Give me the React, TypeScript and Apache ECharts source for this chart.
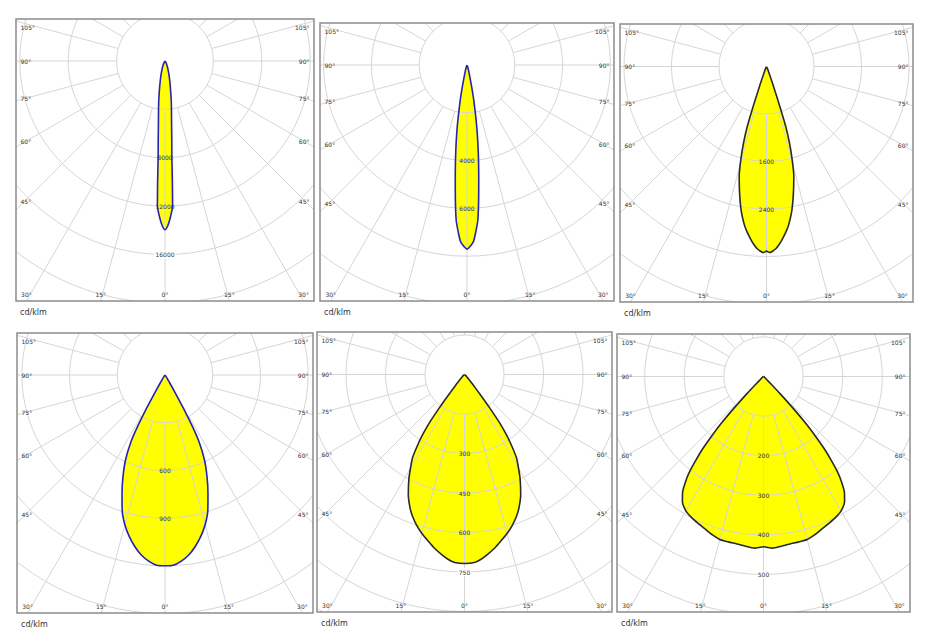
import React, { useEffect, useRef } from "react";
import * as echarts from "echarts";

// ---------- data ----------
const sideAngleLabels = [105, 90, 75, 60, 45];
const bottomAngleLabels = [30, 15, 0];
const unitLabel = "cd/klm";

// Panel 1
const p1Step = 4000;
const p1RingLabels = [8000, 12000, 16000];
const p1Angles = [0, 1, 2, 3, 3.5, 4, 5, 6, 7.5, 9, 11, 13, 16, 20, 25, 30, 40, 50, 90];
const p1Values = [13950, 13600, 12900, 12000, 10000, 8200, 6400, 5200, 4100, 3300, 2400, 1800, 1200, 700, 350, 180, 60, 20, 0];

// Panel 2
const p2Step = 2000;
const p2RingLabels = [4000, 6000];
const p2Angles = [0, 2, 3, 4, 5, 6, 7, 8, 9, 10, 11, 12, 13, 15, 20, 30, 90];
const p2Values = [7700, 7420, 7000, 6500, 5600, 4700, 3950, 3250, 2600, 1950, 1450, 950, 600, 300, 80, 20, 0];

// Panel 3
const p3Step = 800;
const p3RingLabels = [1600, 2400];
const p3Angles = [0, 1, 2, 3, 4, 5, 6, 7, 8, 10, 12, 14, 15.4, 16.7, 17.8, 18.5, 19, 20, 22, 25, 30, 90];
const p3Values = [3110, 3135, 3110, 3070, 3010, 2940, 2860, 2780, 2690, 2460, 2180, 1900, 1630, 1350, 1060, 700, 450, 250, 90, 30, 10, 0];

// Panel 4
const p4Step = 300;
const p4RingLabels = [600, 900];
const p4Angles = [0, 2.5, 5, 7.5, 10, 12.5, 15, 17.5, 20, 22.5, 25, 27, 28, 29, 30, 31, 33, 40, 90];
const p4Values = [1200, 1198, 1175, 1142, 1095, 1040, 975, 895, 790, 690, 585, 470, 370, 240, 120, 55, 20, 5, 0];

// Panel 5
const p5Step = 150;
const p5RingLabels = [300, 450, 600, 750];
const p5Angles = [0, 3, 5, 7, 10, 12, 15, 17.5, 20, 22, 25, 28, 30, 32, 34, 35, 36, 37, 38, 40, 45, 50, 90];
const p5Values = [718, 715, 705, 691, 668, 650, 625, 602, 575, 550, 505, 450, 410, 372, 308, 270, 225, 160, 100, 45, 12, 4, 0];

// Panel 6
const p6Step = 100;
const p6RingLabels = [200, 300, 400, 500];
const p6Angles = [0, 3, 6, 9, 12, 15, 18, 21, 24, 27, 30, 33, 35, 37, 38, 39, 40, 41, 42, 43, 44, 45, 47, 50, 60, 90];
const p6Values = [430, 434, 431, 428, 427, 426, 420, 412, 406, 400, 392, 376, 356, 322, 300, 270, 240, 200, 160, 110, 60, 25, 10, 4, 2, 0];

// ---------- layout / style ----------
const BLUE = "#2424b0";
const DARK = "#2a2a2a";
const GRID = "#d6d6d6";
const TEXT = "#333333";
const FONT = "DejaVu Sans";

type Panel = {
  angles: number[];
  values: number[];
  rings: number[];
  step: number;
  stroke: string;
  box: [number, number, number, number];
  center: [number, number];
  px: number;
};

const panels: Panel[] = [
  { angles: p1Angles, values: p1Values, rings: p1RingLabels, step: p1Step, stroke: BLUE, box: [16, 19, 314, 301], center: [165, 61], px: 48.4 },
  { angles: p2Angles, values: p2Values, rings: p2RingLabels, step: p2Step, stroke: BLUE, box: [320, 23, 614, 301], center: [467, 65], px: 47.8 },
  { angles: p3Angles, values: p3Values, rings: p3RingLabels, step: p3Step, stroke: DARK, box: [620, 24, 913, 302], center: [766.5, 66.5], px: 47.5 },
  { angles: p4Angles, values: p4Values, rings: p4RingLabels, step: p4Step, stroke: BLUE, box: [17, 333, 313, 613], center: [165, 375], px: 47.7 },
  { angles: p5Angles, values: p5Values, rings: p5RingLabels, step: p5Step, stroke: DARK, box: [317, 332, 612, 612], center: [464.5, 374.5], px: 39.5 },
  { angles: p6Angles, values: p6Values, rings: p6RingLabels, step: p6Step, stroke: DARK, box: [617, 334, 910, 612], center: [763.5, 376.5], px: 39.6 },
];

const M = 3;
const FOOT = 22;

function geom(p: Panel) {
  const [l, t, r, b] = p.box;
  const ox = l - M;
  const oy = t - M;
  const W = r - l + 2 * M;
  const H = b - t + M + FOOT;
  return { ox, oy, W, H, bl: M, bt: M, br: M + (r - l), bb: M + (b - t), cx: p.center[0] - ox, cy: p.center[1] - oy };
}

const hidden = { axisLine: { show: false }, axisTick: { show: false }, axisLabel: { show: false }, splitLine: { show: false } };

function buildOption(p: Panel) {
  const g = geom(p);
  const { W, H, bl, bt, br, bb, cx, cy } = g;
  const corners = [[bl, bt], [br, bt], [bl, bb], [br, bb]];
  const far = Math.max(...corners.map(([x, y]) => Math.hypot(x - cx, y - cy)));
  const N = Math.ceil(far / p.px) + 1;

  const n = p.angles.length;
  const data: number[][] = [];
  for (let i = n - 1; i >= 0; i--) data.push([p.values[i], p.angles[i]]);
  for (let i = 1; i < n; i++) data.push([p.values[i], 360 - p.angles[i]]);
  const peak = Math.max(...p.values);

  const txt = (text: string, x: number, y: number, align: string, size = 6) => ({
    type: "text",
    x,
    y,
    z: 70,
    silent: true,
    style: { text, fontSize: size, fontFamily: FONT, fill: TEXT, align, verticalAlign: "middle" },
  });

  const graphics: any[] = [
    { type: "rect", z: 50, silent: true, shape: { x: 0, y: 0, width: W, height: M }, style: { fill: "#fff" } },
    { type: "rect", z: 50, silent: true, shape: { x: 0, y: 0, width: M, height: H }, style: { fill: "#fff" } },
    { type: "rect", z: 50, silent: true, shape: { x: W - M, y: 0, width: M, height: H }, style: { fill: "#fff" } },
    { type: "rect", z: 50, silent: true, shape: { x: 0, y: bb, width: W, height: H - bb }, style: { fill: "#fff" } },
    {
      type: "rect",
      z: 60,
      silent: true,
      shape: { x: bl, y: bt, width: br - bl, height: bb - bt },
      style: { fill: "none", stroke: "#8c8c8c", lineWidth: 1.5 },
    },
  ];

  for (const a of sideAngleLabels) {
    const rad = (a * Math.PI) / 180;
    const cot = Math.cos(rad) / Math.sin(rad);
    const clampY = (y: number) => Math.max(bt + 8, Math.min(bb - 16, y));
    const yl = clampY(cy + (cx - bl - 9) * cot);
    const yr = clampY(cy + (br - 9 - cx) * cot);
    graphics.push(txt(a + "°", bl + 4.5, yl, "left"));
    graphics.push(txt(a + "°", br - 4.5, yr, "right"));
  }
  for (const a of bottomAngleLabels) {
    const tan = Math.tan((a * Math.PI) / 180);
    const dy = bb - cy;
    const y = bb - 6.5;
    const clampX = (x: number) => Math.max(bl + 10, Math.min(br - 10, x));
    if (a === 0) {
      graphics.push(txt(a + "°", cx, y, "center"));
    } else {
      graphics.push(txt(a + "°", clampX(cx - dy * tan), y, "center"));
      graphics.push(txt(a + "°", clampX(cx + dy * tan), y, "center"));
    }
  }
  graphics.push(txt(unitLabel, bl + 4, bb + 11, "left", 8));

  return {
    animation: false,
    polar: [
      { center: [cx, cy], radius: [p.px, p.px * N] },
      { center: [cx, cy], radius: [0, p.px * N] },
    ],
    angleAxis: [
      {
        polarIndex: 0,
        type: "value",
        min: 0,
        max: 360,
        interval: 15,
        startAngle: 270,
        clockwise: true,
        z: 2,
        axisLine: { show: false },
        axisTick: { show: false },
        axisLabel: { show: false },
        splitLine: { show: true, lineStyle: { color: GRID, width: 1 } },
      },
      { polarIndex: 1, type: "value", min: 0, max: 360, interval: 15, startAngle: 270, clockwise: true, ...hidden },
    ],
    radiusAxis: [
      {
        polarIndex: 0,
        type: "value",
        min: p.step,
        max: p.step * N,
        interval: p.step,
        z: 2,
        axisLine: { show: false },
        axisTick: { show: false },
        splitLine: { show: true, lineStyle: { color: GRID, width: 1 } },
        axisLabel: {
          show: true,
          margin: 0,
          align: "center",
          verticalAlign: "middle",
          fontSize: 6,
          fontFamily: FONT,
          color: TEXT,
          formatter: (v: number) => {
            if (!p.rings.includes(v)) return "";
            return v > peak ? "{w|" + v + "}" : String(v);
          },
          rich: { w: { backgroundColor: "#ffffff", padding: [1, 1], fontSize: 6, fontFamily: FONT, color: TEXT } },
        },
      },
      { polarIndex: 1, type: "value", min: 0, max: p.step * N, interval: p.step, ...hidden },
    ],
    series: [
      {
        type: "line",
        coordinateSystem: "polar",
        polarIndex: 1,
        data,
        symbol: "none",
        smooth: 0.2,
        clip: false,
        z: 1,
        silent: true,
        lineStyle: { width: 0, opacity: 0 },
        areaStyle: { color: "#ffff00", opacity: 1, origin: 0 },
      },
      {
        type: "line",
        coordinateSystem: "polar",
        polarIndex: 1,
        data,
        symbol: "none",
        smooth: 0.2,
        clip: false,
        z: 3,
        silent: true,
        lineStyle: { color: p.stroke, width: 1.6 },
      },
    ],
    graphic: graphics,
  };
}

function PanelChart({ panel }: { panel: Panel }) {
  const ref = useRef<HTMLDivElement>(null);
  const g = geom(panel);
  useEffect(() => {
    if (!ref.current) return;
    const chart = echarts.init(ref.current, null, { renderer: "svg" });
    chart.setOption(buildOption(panel) as any);
    return () => chart.dispose();
  }, [panel]);
  return (
    <div
      ref={ref}
      style={{ position: "absolute", left: g.ox, top: g.oy, width: g.W, height: g.H, overflow: "hidden" }}
    />
  );
}

export default function App() {
  return (
    <div style={{ position: "absolute", left: 0, top: 0, width: 929, height: 636, background: "#fff" }}>
      {panels.map((p, i) => (
        <PanelChart key={i} panel={p} />
      ))}
    </div>
  );
}
